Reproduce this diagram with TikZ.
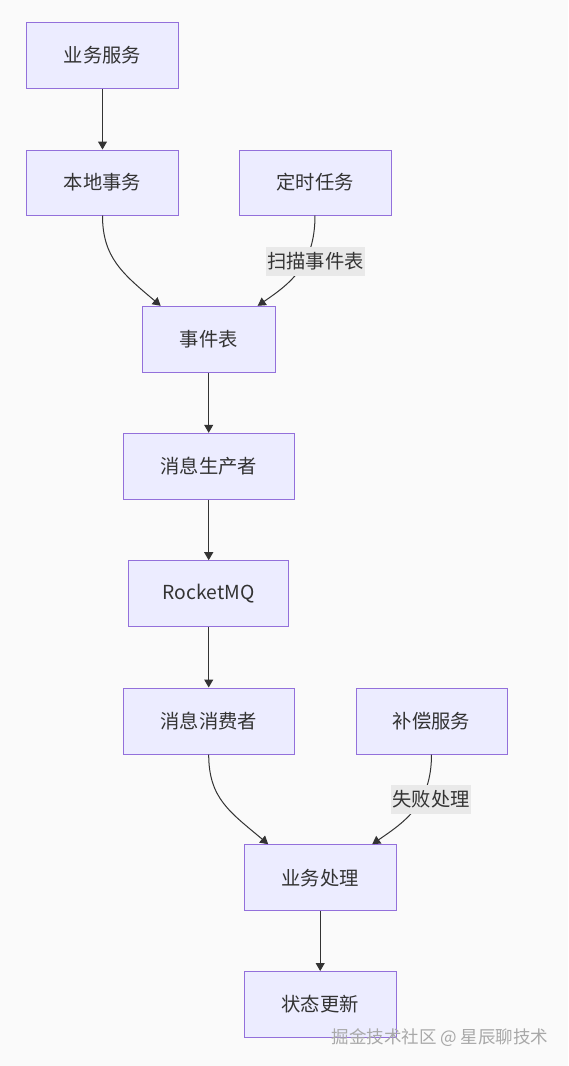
\documentclass[tikz,border=0pt]{standalone}
\usepackage{fontspec}
\setmainfont{Noto Sans CJK SC}
\usetikzlibrary{arrows.meta,calc}
\definecolor{nodefill}{HTML}{ECECFF}
\definecolor{nodestroke}{HTML}{9370DB}
\definecolor{linec}{HTML}{333333}
\definecolor{txt}{HTML}{333333}
\definecolor{lblbg}{HTML}{E9E9E9}
\definecolor{bgc}{HTML}{FAFAFA}
\definecolor{wm}{HTML}{A8A8A8}
\begin{document}
\begin{tikzpicture}[x=1pt,y=-1pt,
  box/.style={draw=nodestroke,fill=nodefill,line width=1pt,text=txt,font=\fontsize{19.3}{21}\selectfont,inner sep=0pt,minimum height=66pt},
  lbl/.style={fill=lblbg,text=txt,font=\fontsize{19.3}{21}\selectfont,inner sep=1pt,minimum height=29pt},
  edge/.style={draw=linec,line width=1pt,-{Triangle[length=8pt,width=9pt]}}]
\fill[bgc] (0,0) rectangle (568,1066);
\useasboundingbox (0,0) rectangle (568,1066);
\node[box,minimum width=152pt] (svc) at (102.5,55.3) {业务服务};
\node[box,minimum width=152pt,minimum height=65pt] (local) at (102.5,182.5) {本地事务};
\node[box,minimum width=152pt,minimum height=65pt] (timer) at (315,182.5) {定时任务};
\node[box,minimum width=133pt] (evt) at (208.7,339.3) {事件表};
\node[box,minimum width=171pt] (prod) at (208.7,466.3) {消息生产者};
\node[box,minimum width=160pt] (mq) at (208.7,593.7) {RocketMQ};
\node[box,minimum width=171pt] (cons) at (208.7,721) {消息消费者};
\node[box,minimum width=151pt] (comp) at (431.5,721) {补偿服务};
\node[box,minimum width=152pt] (biz) at (320.2,877.7) {业务处理};
\node[box,minimum width=152pt] (state) at (320.2,1004.5) {状态更新};
\coordinate (e1) at ($(evt.north)+(-48,0)$);
\coordinate (e2) at ($(evt.north)+(49,0)$);
\coordinate (b1) at ($(biz.north)+(-52,0)$);
\coordinate (b2) at ($(biz.north)+(52,0)$);
\draw[edge] (svc) -- (local);
\draw[edge] (local.south) .. controls ($(local.south)+(0,42)$) and ($(e1)+(-38,-32)$) .. (e1);
\draw[edge] (timer.south) .. controls ($(timer.south)+(0,50)$) and ($(e2)+(32,-22)$) .. (e2);
\node[lbl] (l1) at (315.5,261.5) {扫描事件表};
\draw[edge] (evt) -- (prod);
\draw[edge] (prod) -- (mq);
\draw[edge] (mq) -- (cons);
\draw[edge] (cons.south) .. controls ($(cons.south)+(0,44)$) and ($(b1)+(-38,-32)$) .. (b1);
\draw[edge] (comp.south) .. controls ($(comp.south)+(0,50)$) and ($(b2)+(32,-22)$) .. (b2);
\node[lbl] (l2) at (431,799) {失败处理};
\draw[edge] (biz) -- (state);
\node[text=wm,font=\fontsize{17.5}{19}\selectfont,inner sep=0pt] (wmk) at (440,1038) {掘金技术社区 @ 星辰聊技术};
\end{tikzpicture}
\end{document}
